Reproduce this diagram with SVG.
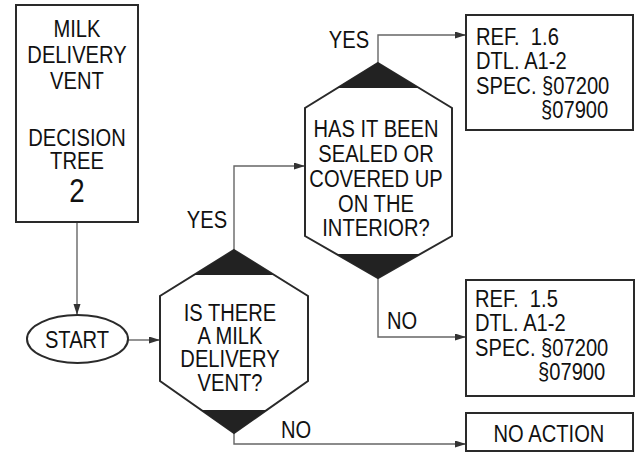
<svg xmlns="http://www.w3.org/2000/svg" width="639" height="454" viewBox="0 0 639 454">
<style>
.t{font-family:"Liberation Sans",Arial,sans-serif;font-size:24px;fill:#111}
.m{text-anchor:middle}
.box{fill:#fff;stroke:#2a2a2a;stroke-width:2}
.dark{fill:#222}
.con{fill:none;stroke:#666;stroke-width:1.4}
</style>
<defs>
<marker id="ah" markerUnits="userSpaceOnUse" markerWidth="12" markerHeight="8" refX="11" refY="3.5" orient="auto">
<path d="M0,0 L11,3.5 L0,7 Z" fill="#333"/>
</marker>
</defs>
<rect width="639" height="454" fill="#fff"/>
<g id="connectors">
<path class="con" d="M77,222 V315" marker-end="url(#ah)"/>
<path class="con" d="M128,340 H160" marker-end="url(#ah)"/>
<path class="con" d="M234,250 V166 H305" marker-end="url(#ah)"/>
<path class="con" d="M378,63 V35 H466" marker-end="url(#ah)"/>
<path class="con" d="M378,278 V337 H466" marker-end="url(#ah)"/>
<path class="con" d="M234,433 V444 H466" marker-end="url(#ah)"/>
<text class="t m" transform="translate(207,228) scale(0.84,1)">YES</text>
<text class="t m" transform="translate(349,48) scale(0.84,1)">YES</text>
<text class="t m" transform="translate(402,329) scale(0.84,1)">NO</text>
<text class="t m" transform="translate(296,438) scale(0.84,1)">NO</text>
</g>
<g id="title">
<rect class="box" x="16" y="5" width="122" height="217"/>
<text class="t m" transform="translate(77,37) scale(0.84,1)">MILK</text>
<text class="t m" transform="translate(77,63) scale(0.84,1)">DELIVERY</text>
<text class="t m" transform="translate(77,89) scale(0.84,1)">VENT</text>
<text class="t m" transform="translate(77,146) scale(0.84,1)">DECISION</text>
<text class="t m" transform="translate(77,169) scale(0.84,1)">TREE</text>
<text class="t m" transform="translate(77,202) scale(0.84,1)" style="font-size:33px">2</text>
</g>
<g id="start">
<ellipse cx="77.5" cy="339" rx="50.5" ry="24" fill="#fff" stroke="#2a2a2a" stroke-width="2"/>
<text class="t m" transform="translate(77,348) scale(0.84,1)">START</text>
</g>
<g id="q1">
<path class="box" d="M234,250 L308,296 L308,381 L234,433 L160,381 L160,296 Z"/>
<path class="dark" d="M234,250 L274,275 L194,275 Z"/>
<path class="dark" d="M201,410 L267,410 L234,433 Z"/>
<text class="t m" transform="translate(230,321) scale(0.84,1)">IS THERE</text>
<text class="t m" transform="translate(230,344) scale(0.84,1)">A MILK</text>
<text class="t m" transform="translate(230,367) scale(0.84,1)">DELIVERY</text>
<text class="t m" transform="translate(230,391) scale(0.84,1)">VENT?</text>
</g>
<g id="q2">
<path class="box" d="M378,63 L452,108 L452,236 L378,278 L305,236 L305,108 Z"/>
<path class="dark" d="M378,63 L419,88 L337,88 Z"/>
<path class="dark" d="M336,254 L420,254 L378,278 Z"/>
<text class="t m" transform="translate(376,137) scale(0.84,1)">HAS IT BEEN</text>
<text class="t m" transform="translate(376,162) scale(0.84,1)">SEALED OR</text>
<text class="t m" transform="translate(376,187) scale(0.84,1)">COVERED UP</text>
<text class="t m" transform="translate(376,212) scale(0.84,1)">ON THE</text>
<text class="t m" transform="translate(376,236) scale(0.84,1)">INTERIOR?</text>
</g>
<g id="ref16">
<rect class="box" x="466" y="15" width="167" height="115"/>
<text class="t" transform="translate(476,45) scale(0.84,1)" xml:space="preserve">REF.  1.6</text>
<text class="t" transform="translate(476,69) scale(0.84,1)">DTL. A1-2</text>
<text class="t" transform="translate(476,94) scale(0.84,1)">SPEC. §07200</text>
<text class="t" transform="translate(541,118) scale(0.84,1)">§07900</text>
</g>
<g id="ref15">
<rect class="box" x="466" y="280" width="168" height="116"/>
<text class="t" transform="translate(475,307) scale(0.84,1)" xml:space="preserve">REF.  1.5</text>
<text class="t" transform="translate(475,331) scale(0.84,1)">DTL. A1-2</text>
<text class="t" transform="translate(475,356) scale(0.84,1)">SPEC. §07200</text>
<text class="t" transform="translate(538,380) scale(0.84,1)">§07900</text>
</g>
<g id="noaction">
<rect class="box" x="466" y="413" width="167" height="38"/>
<text class="t m" transform="translate(549,442) scale(0.84,1)">NO ACTION</text>
</g>
</svg>
